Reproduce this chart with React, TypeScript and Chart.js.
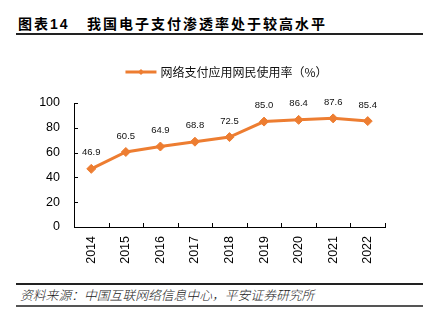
import React, { useEffect, useRef } from "react";
import { Chart, registerables } from "chart.js";

Chart.register(...registerables);

const categories = ["2014", "2015", "2016", "2017", "2018", "2019", "2020", "2021", "2022"];
const usageRate = [46.9, 60.5, 64.9, 68.8, 72.5, 85.0, 86.4, 87.6, 85.4];
const yTicks = [0, 20, 40, 60, 80, 100];
const seriesName = "网络支付应用网民使用率（%）";
const titleLabel = "图表14";
const titleText = "我国电子支付渗透率处于较高水平";
const sourceText = "资料来源：中国互联网络信息中心，平安证券研究所";

const ORANGE = "#ED7D31";
const LATIN = "'Liberation Sans', Arial, sans-serif";
const CJK = "'Liberation Sans', 'Noto Sans CJK SC', sans-serif";
const CJK_ONLY = "'Noto Sans CJK SC', sans-serif";

const decorPlugin = {
  id: "decor",
  afterDatasetsDraw(chart: any) {
    const ctx = chart.ctx as CanvasRenderingContext2D;
    const { left, right, top, bottom } = chart.chartArea;
    const xs = chart.scales.x;
    const ys = chart.scales.y;
    ctx.save();
    // inward tick marks
    ctx.strokeStyle = "#000";
    ctx.lineWidth = 1;
    const step = xs.getPixelForValue(1) - xs.getPixelForValue(0);
    for (let i = 0; i <= categories.length; i++) {
      const px = Math.round(xs.getPixelForValue(i) - step / 2) + 0.5;
      ctx.beginPath();
      ctx.moveTo(px, bottom);
      ctx.lineTo(px, bottom - 4);
      ctx.stroke();
    }
    yTicks.forEach((v) => {
      const py = Math.round(ys.getPixelForValue(v)) + 0.5;
      ctx.beginPath();
      ctx.moveTo(left, py);
      ctx.lineTo(left + 4, py);
      ctx.stroke();
    });
    // data labels
    ctx.fillStyle = "#111";
    ctx.font = `9.5px ${LATIN}`;
    ctx.textAlign = "center";
    ctx.textBaseline = "middle";
    const meta = chart.getDatasetMeta(0);
    meta.data.forEach((pt: any, i: number) => {
      ctx.fillText(usageRate[i].toFixed(1), pt.x, pt.y - 16);
    });
    // legend
    ctx.font = `12px ${CJK_ONLY}`;
    const tw = ctx.measureText(seriesName).width;
    const lineW = 31;
    const gap = 4;
    const total = lineW + gap + tw;
    const lx = (left + right) / 2 - total / 2 - 3;
    const ly = top - 31;
    ctx.strokeStyle = ORANGE;
    ctx.lineWidth = 3;
    ctx.beginPath();
    ctx.moveTo(lx, ly);
    ctx.lineTo(lx + lineW, ly);
    ctx.stroke();
    ctx.fillStyle = ORANGE;
    ctx.beginPath();
    const cx = lx + lineW / 2;
    ctx.moveTo(cx, ly - 3);
    ctx.lineTo(cx + 3, ly);
    ctx.lineTo(cx, ly + 3);
    ctx.lineTo(cx - 3, ly);
    ctx.closePath();
    ctx.fill();
    ctx.fillStyle = "#111";
    ctx.textAlign = "left";
    ctx.fillText(seriesName, lx + lineW + gap, ly + 0.5);
    ctx.restore();
  },
};

export default function App() {
  const canvasRef = useRef<HTMLCanvasElement | null>(null);

  useEffect(() => {
    const canvas = canvasRef.current;
    if (!canvas) return;
    const chart = new Chart(canvas, {
      type: "line",
      data: {
        labels: categories,
        datasets: [
          {
            label: seriesName,
            data: usageRate,
            borderColor: ORANGE,
            backgroundColor: ORANGE,
            borderWidth: 3,
            tension: 0,
            pointStyle: "rectRot",
            pointRadius: 4.5,
            pointBorderWidth: 1,
            pointBackgroundColor: ORANGE,
            pointBorderColor: ORANGE,
            clip: false as any,
          },
        ],
      },
      options: {
        animation: false,
        responsive: false,
        devicePixelRatio: 1,
        layout: { padding: { top: 63, right: 43, bottom: 0, left: 0 } },
        plugins: {
          legend: { display: false },
          tooltip: { enabled: false },
          title: { display: false },
        },
        scales: {
          x: {
            type: "category",
            offset: true,
            grid: { display: false, drawTicks: false, offset: true },
            border: { display: true, color: "#000", width: 1 },
            ticks: {
              autoSkip: false,
              minRotation: 90,
              maxRotation: 90,
              padding: 9,
              color: "#000",
              font: { family: LATIN, size: 12.5 },
            },
            afterFit: (s: any) => {
              s.height = 53;
            },
          },
          y: {
            min: 0,
            max: 100,
            grid: { display: false, drawTicks: false },
            border: { display: true, color: "#000", width: 1 },
            ticks: {
              padding: 14,
              color: "#000",
              font: { family: LATIN, size: 12.5 },
            },
            afterBuildTicks: (s: any) => {
              s.ticks = yTicks.map((v) => ({ value: v }));
            },
            afterFit: (s: any) => {
              s.width = 74;
            },
          },
        },
      },
      plugins: [decorPlugin],
    });
    return () => chart.destroy();
  }, []);

  return (
    <div
      style={{
        position: "fixed",
        left: 0,
        top: 0,
        width: 428,
        height: 323,
        background: "#fff",
        overflow: "hidden",
      }}
    >
      <div
        style={{
          position: "absolute",
          left: 18,
          top: 17,
          fontFamily: CJK,
          fontWeight: "bold",
          fontSize: 14,
          lineHeight: "14px",
          letterSpacing: 2,
          color: "#000",
          whiteSpace: "nowrap",
        }}
      >
        {titleLabel}
      </div>
      <div
        style={{
          position: "absolute",
          left: 87,
          top: 17,
          fontFamily: CJK,
          fontWeight: "bold",
          fontSize: 14,
          lineHeight: "14px",
          letterSpacing: 2,
          color: "#000",
          whiteSpace: "nowrap",
        }}
      >
        {titleText}
      </div>
      <div
        style={{ position: "absolute", left: 16, width: 407, top: 33, height: 2, background: "#222" }}
      />
      <canvas
        ref={canvasRef}
        width={428}
        height={240}
        style={{ position: "absolute", left: 0, top: 40, width: 428, height: 240 }}
      />
      <div
        style={{ position: "absolute", left: 16, width: 407, top: 283, height: 1.5, background: "#222" }}
      />
      <div
        style={{
          position: "absolute",
          left: 20,
          top: 288,
          fontFamily: CJK_ONLY,
          fontStyle: "italic",
          fontWeight: 300,
          fontSize: 12.8,
          lineHeight: "13px",
          color: "#222",
          whiteSpace: "nowrap",
        }}
      >
        {sourceText}
      </div>
      <div
        style={{ position: "absolute", left: 16, width: 407, top: 305, height: 1.5, background: "#555" }}
      />
    </div>
  );
}
